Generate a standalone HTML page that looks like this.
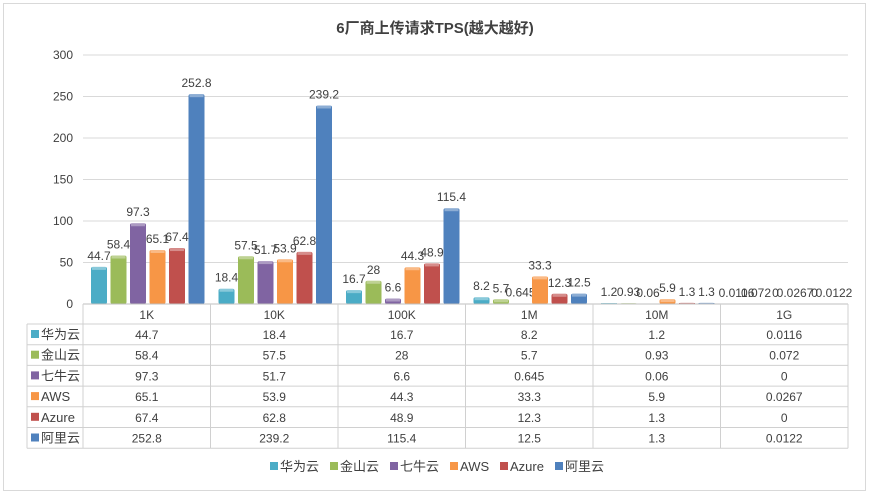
<!DOCTYPE html>
<html><head><meta charset="utf-8"><style>
body{margin:0;background:#fff;}
svg{display:block;font-family:"Liberation Sans","Noto Sans CJK SC",sans-serif;}
</style></head><body>
<svg id="c" width="869" height="494" xmlns="http://www.w3.org/2000/svg">
<rect x="3.5" y="3.5" width="862" height="487" fill="#fff" stroke="#d9d9d9"/>
<text x="435" y="33" text-anchor="middle" font-size="15" font-weight="bold" fill="#404040">6厂商上传请求TPS(越大越好)</text>
<g id="grid"></g><g id="bars"></g><g id="tbl"></g><g id="legend"></g>
</svg>
<script>
const categories=["1K","10K","100K","1M","10M","1G"];
const seriesNames=["华为云","金山云","七牛云","AWS","Azure","阿里云"];
const huawei=[44.7,18.4,16.7,8.2,1.2,0.0116];
const jinshan=[58.4,57.5,28,5.7,0.93,0.072];
const qiniu=[97.3,51.7,6.6,0.645,0.06,0];
const aws=[65.1,53.9,44.3,33.3,5.9,0.0267];
const azure=[67.4,62.8,48.9,12.3,1.3,0];
const aliyun=[252.8,239.2,115.4,12.5,1.3,0.0122];
const yTicks=[0,50,100,150,200,250,300];
const series=[huawei,jinshan,qiniu,aws,azure,aliyun];
const colors=["#4bacc6","#9bbb59","#8064a2","#f79646","#c0504d","#4f81bd"];
const NS="http://www.w3.org/2000/svg";
const X0=83,X1=848,Y0=304,YT=55,YMAX=300;
const cw=(X1-X0)/categories.length;
const y=v=>Y0-(v/YMAX)*(Y0-YT);
const xb=(c,s)=>X0+c*cw+8+s*19.5;
function mk(t,a,p){const e=document.createElementNS(NS,t);for(const k in a)e.setAttribute(k,a[k]);p.appendChild(e);return e;}
const grid=document.getElementById('grid');
yTicks.forEach(t=>{
  const l=mk('line',{x1:X0,x2:X1,y1:y(t),y2:y(t),stroke:'#d9d9d9'},grid);
  
  
  const tx=mk('text',{x:73,y:y(t)+4,'text-anchor':'end','font-size':12,fill:'#404040'},grid);
  tx.textContent=t;
  
  
});
const bars=document.getElementById('bars');
series.forEach((vals,s)=>{vals.forEach((v,c)=>{
  const x=xb(c,s),top=y(v),h=Y0-top;
  if(h>0.5){
    const r=mk('rect',{x:x,y:top,width:16,height:h,fill:colors[s],rx:2},bars);
    
    
    mk('rect',{x:x+1,y:top,width:14,height:Math.min(3,h),fill:'#fff','fill-opacity':0.35},bars);
  }
  const t=mk('text',{x:x+8,y:top-7,'text-anchor':'middle','font-size':12,fill:'#404040'},bars);
  t.textContent=v;
  
  
});});
const tbl=document.getElementById('tbl');
const rh=20.7,TL=27,TT=Y0;
mk('line',{x1:X0,x2:X1,y1:TT,y2:TT,stroke:'#bfbfbf'},tbl);
for(let r=1;r<=7;r++){const yy=TT+20+(r-1)*rh;mk('line',{x1:r===1?TL:TL,x2:X1,y1:yy,y2:yy,stroke:'#d0d0d0'},tbl);}
mk('line',{x1:TL,x2:TL,y1:TT+20,y2:TT+20+6*rh,stroke:'#d0d0d0'},tbl);
for(let c=0;c<=6;c++){const xx=X0+c*cw;mk('line',{x1:xx,x2:xx,y1:TT,y2:TT+20+6*rh,stroke:'#d0d0d0'},tbl);}
categories.forEach((cat,c)=>{
  const t=mk('text',{x:X0+(c+0.5)*cw,y:TT+15,'text-anchor':'middle','font-size':12,fill:'#404040'},tbl);
  t.textContent=cat;
  
  
});
series.forEach((vals,s)=>{
  const yy=TT+20+s*rh;
  mk('rect',{x:31,y:yy+6,width:8,height:8,fill:colors[s]},tbl);
  const n=mk('text',{x:41,y:yy+15,'font-size':13,fill:'#404040'},tbl);
  n.textContent=seriesNames[s];
  
  
  vals.forEach((v,c)=>{
    const t=mk('text',{x:X0+(c+0.5)*cw,y:yy+15,'text-anchor':'middle','font-size':12,fill:'#404040'},tbl);
    t.textContent=v;
    
    
  });
});
const lg=document.getElementById('legend');
const lw=[60,60,60,50,55,55];let lx=270;
seriesNames.forEach((n,s)=>{
  const g=mk('g',{},lg);
  
  
  mk('rect',{x:lx,y:462,width:8,height:8,fill:colors[s]},g);
  const t=mk('text',{x:lx+10,y:471,'font-size':13,fill:'#404040'},g);
  t.textContent=n;
  lx+=lw[s];
});
</script>
</body></html>
